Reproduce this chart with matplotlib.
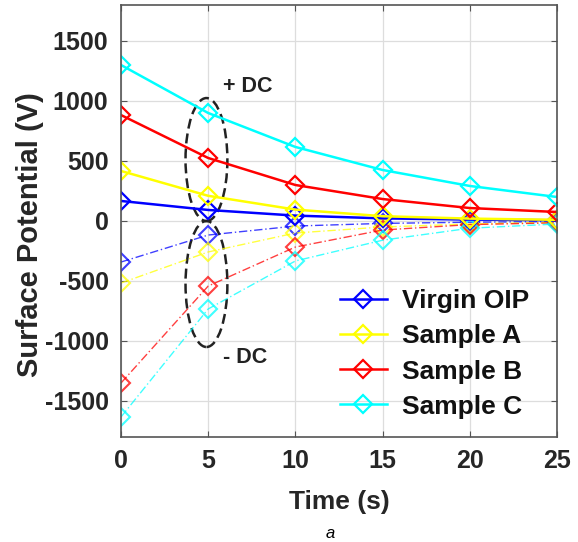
import matplotlib
matplotlib.use("Agg")
import matplotlib.pyplot as plt
from matplotlib.patches import Ellipse

plt.rcParams['font.family'] = ['Liberation Sans', 'DejaVu Sans']
plt.rcParams['axes.unicode_minus'] = False

time = [0, 5, 10, 15, 20, 25]
labels = ["Virgin OIP", "Sample A", "Sample B", "Sample C"]
colors = ["#0000ff", "#ffff00", "#ff0000", "#00ffff"]

pos_virgin = [167, 92, 45, 22, 12, 6]
pos_a = [417, 210, 95, 40, 20, 10]
pos_b = [883, 525, 300, 183, 108, 75]
pos_c = [1300, 900, 617, 425, 292, 200]

neg_virgin = [-342, -117, -42, -20, -10, -5]
neg_a = [-517, -258, -100, -50, -25, -10]
neg_b = [-1350, -542, -217, -75, -30, -15]
neg_c = [-1633, -733, -333, -160, -60, -25]

pos = [pos_virgin, pos_a, pos_b, pos_c]
neg = [neg_virgin, neg_a, neg_b, neg_c]

fig = plt.figure(figsize=(5.78, 5.42), dpi=100)
ax = fig.add_axes([121/578, 1-437/542, (557-121)/578, (437-5)/542])

for i in range(4):
    ax.plot(time, neg[i], color=colors[i], ls=(0, (6, 2, 1, 2)), lw=1.0, alpha=0.75,
            marker='D', markersize=9, markerfacecolor='none', markeredgewidth=1.5,
            markeredgecolor=colors[i])
for i in range(4):
    ax.plot(time, pos[i], color=colors[i], ls='-', lw=1.8, label=labels[i],
            marker='D', markersize=9, markerfacecolor='none', markeredgewidth=1.6)

ax.add_patch(Ellipse((4.9, 512), 2.4, 1025, fill=False, ls=(0, (4, 2)), lw=1.8, color='#222222'))
ax.add_patch(Ellipse((4.9, -525), 2.4, 1050, fill=False, ls=(0, (4, 2)), lw=1.8, color='#222222'))
ax.text(5.85, 1120, "+ DC", fontsize=15.5, fontweight='bold', va='center', ha='left',
        color='#222222')
ax.text(5.85, -1135, "- DC", fontsize=15.5, fontweight='bold', va='center', ha='left',
        color='#222222')

ax.set_xlim(0, 25)
ax.set_ylim(-1800, 1800)
ax.set_xticks([0, 5, 10, 15, 20, 25])
ax.set_yticks([-1500, -1000, -500, 0, 500, 1000, 1500])
ax.grid(True, color='#dddddd', lw=0.9)
ax.set_axisbelow(True)
ax.tick_params(direction='in', top=True, right=True, length=4, labelsize=18, pad=9,
               color='#555555')
for lab in ax.get_xticklabels() + ax.get_yticklabels():
    lab.set_fontweight('bold')
    lab.set_color('#262626')
for s in ax.spines.values():
    s.set_color('#555555')
    s.set_linewidth(1.2)

ax.set_xlabel("Time (s)", fontsize=19, fontweight='bold', color='#262626')
ax.xaxis.set_label_coords(0.5, (437 - 502) / 432, transform=ax.transAxes)
ax.set_ylabel("Surface Potential (V)", fontsize=21, fontweight='bold', color='#262626')
ax.yaxis.set_label_coords((30 - 121) / 436, (437 - 235) / 432, transform=ax.transAxes)
ax.xaxis.label.set_va('center')
ax.yaxis.label.set_va('center')

leg = ax.legend(loc='center right', frameon=False,
                prop={'weight': 'bold', 'size': 19},
                bbox_to_anchor=((529 - 121) / 436, (437 - 354) / 432),
                handlelength=1.8, labelspacing=0.42, borderaxespad=0.0, borderpad=0.0,
                handletextpad=0.55)
for t in leg.get_texts():
    t.set_color('#111111')

fig.text(330/578, 1-533/542, "a", fontsize=12, style='italic', ha='center', va='center')

fig.savefig("out.png", dpi=100)
